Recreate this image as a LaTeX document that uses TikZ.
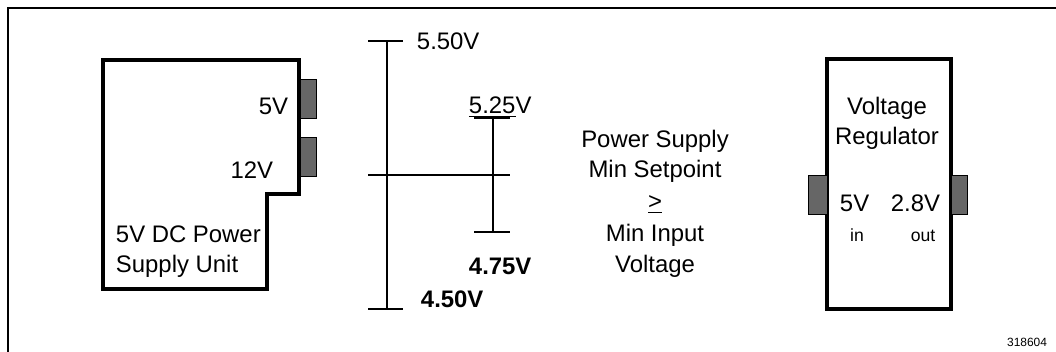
\documentclass[tikz,border=0pt]{standalone}
\usepackage{fontspec}
\setmainfont{Liberation Sans}
\usetikzlibrary{positioning}

\begin{document}
\begin{tikzpicture}[x=0.025cm,y=-0.025cm,font=\fontsize{17}{22}\selectfont,
 outline/.style={line width=3pt,line join=miter},
 tab/.style={draw,line width=0.7pt,fill=black!60},
 scaleline/.style={line width=1.4pt},
 small/.style={font=\fontsize{12.5}{15}\selectfont}]
\useasboundingbox (0,0) rectangle (1056,352);
\draw[line width=1.6pt] (8,352)--(8,8)--(1056,8);
% power supply unit
\draw[outline] (103,60) -| (299,194) -| (267,289) -| (103,60) -- cycle;
\draw[tab] (300,79) rectangle (316,118);
\draw[tab] (300,137) rectangle (316,176);
\node[anchor=base east](psu5) at (293,115){5V};
\node[anchor=base east](psu12) at (278,179){12V};
\node[anchor=base west](psuA) at (111,243){5V DC Power};
\node[anchor=base west](psuB) at (111,273){Supply Unit};
% voltage ranges
\coordinate (hi) at (387,41);
\coordinate (lo) at (387,309);
\coordinate (rhi) at (493,118);
\coordinate (rlo) at (493,232);
\draw[scaleline] (hi)--(lo);
\draw[scaleline] (rhi)--(rlo);
\foreach \c in {hi,lo} \draw[scaleline] (\c)++(-19,0)--++(35,0);
\foreach \c in {rhi,rlo} \draw[scaleline] (\c)++(-19,0)--++(36,0);
\draw[scaleline] (368,175)--(510,175);
\node[anchor=base west](v550) at (412,50){5.50V};
\node[anchor=base west](v525) at (464,114){\underline{5.25}V};
\node[anchor=base west,font=\fontsize{17}{22}\selectfont\bfseries](v475) at (464,275){4.75V};
\node[anchor=base west,font=\fontsize{17}{22}\selectfont\bfseries](v450) at (416,308){4.50V};
% condition text
\foreach \t/\y [count=\i] in {Power Supply/148,Min Setpoint/178,\underline{>}/210,Min Input/242,Voltage/273}
 \node[anchor=base](cond\i) at (655,\y){\t};
% voltage regulator
\draw[outline] (827,59) rectangle (951,309);
\draw[tab] (808,175) rectangle (827,214);
\draw[tab] (951,175) rectangle (967,214);
\node[anchor=base](regA) at (887,115){Voltage};
\node[anchor=base](regB) at (887,145){Regulator};
\node[anchor=base west](reg5) at (835,212){5V};
\node[anchor=base east](reg28) at (945,212){2.8V};
\node[anchor=base,small](regin) at (857,242){in};
\node[anchor=base,small](regout) at (923,242){out};
\node[anchor=base east,font=\fontsize{8.5}{10}\selectfont](fig) at (1052,347){318604};
\end{tikzpicture}
\end{document}
